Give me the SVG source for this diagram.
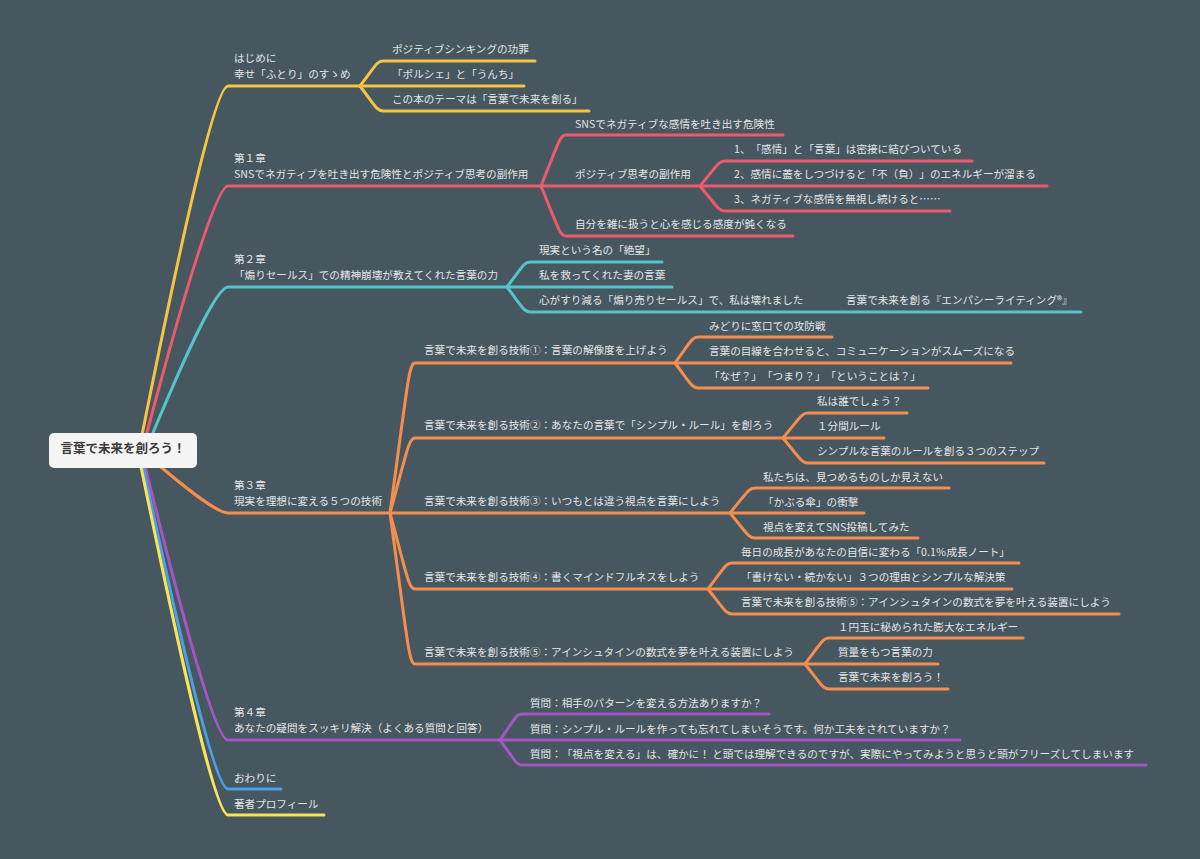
<svg xmlns="http://www.w3.org/2000/svg" width="1200" height="859" viewBox="0 0 1200 859">
<style>
.t{font-family:"Noto Sans CJK JP","Noto Sans",sans-serif;font-size:10.6px;fill:#e2e6e8;text-spacing-trim:space-all}
.root{font-family:"Noto Sans CJK JP","Noto Sans",sans-serif;font-size:12.5px;font-weight:bold;fill:#3a3a3a;text-spacing-trim:space-all}
.c{fill:none;stroke-width:3;stroke-linecap:round;stroke-linejoin:round}
.y{stroke:#f6c443}.r{stroke:#ec5a6b}.cy{stroke:#55c3cb}.o{stroke:#f58d4e}.p{stroke:#a456c4}.b{stroke:#4b9fe3}.y2{stroke:#f8e45c}
</style>
<rect width="1200" height="859" fill="#47575f"/>
<g id="connectors">
<path class="c y" d="M141,440 C180,245 215,86 228,86 L360,86"/>
<path class="c r" d="M145,440 C182,300 216,186 228,186 L541,186"/>
<path class="c cy" d="M150,440 C185,356 216,287 228,287 L507,287"/>
<path class="c o" d="M155,462 C188,490 217,513 228,513 L390,513"/>
<path class="c p" d="M144,462 C182,615 215,740 228,740 L500,740"/>
<path class="c b" d="M142,462 C181,642 215,789 228,789 L281,789"/>
<path class="c y2" d="M140,462 C180,656 215,815 228,815 L324,815"/>
<path class="c y" d="M360,86 C376.1,64.8 377.3,61 383,61 L535,61"/>
<path class="c y" d="M360,86 L524,86"/>
<path class="c y" d="M360,86 C376.1,107.3 377.3,111 383,111 L589,111"/>
<path class="c r" d="M541,186 C558.5,142.7 559.8,135 566,135 L783,135"/>
<path class="c r" d="M541,186 L700,186"/>
<path class="c r" d="M541,186 C558.5,228.5 559.8,236 566,236 L793,236"/>
<path class="c r" d="M700,186 C717.5,164.8 718.8,161 725,161 L972,161"/>
<path class="c r" d="M700,186 L1047,186"/>
<path class="c r" d="M700,186 C717.5,207.3 718.8,211 725,211 L950,211"/>
<path class="c cy" d="M507,287 C523.1,265.8 524.3,262 530,262 L662,262"/>
<path class="c cy" d="M507,287 L672,287"/>
<path class="c cy" d="M507,287 C523.1,308.3 524.3,312 530,312 L1081,312"/>
<path class="c o" d="M390,513 C407.5,385.5 408.8,363 415,363 L675,363"/>
<path class="c o" d="M390,513 C407.5,449.3 408.8,438 415,438 L783,438"/>
<path class="c o" d="M390,513 L730,513"/>
<path class="c o" d="M390,513 C407.5,577.6 408.8,589 415,589 L708,589"/>
<path class="c o" d="M390,513 C407.5,641.4 408.8,664 415,664 L805,664"/>
<path class="c o" d="M675,363 C691.1,340.9 692.3,337 698,337 L832,337"/>
<path class="c o" d="M675,363 L1011,363"/>
<path class="c o" d="M675,363 C691.1,384.3 692.3,388 698,388 L928,388"/>
<path class="c o" d="M783,438 C800.5,416.8 801.8,413 808,413 L907,413"/>
<path class="c o" d="M783,438 L884,438"/>
<path class="c o" d="M783,438 C800.5,459.3 801.8,463 808,463 L1044,463"/>
<path class="c o" d="M730,513 C747.5,491.8 748.8,488 755,488 L949,488"/>
<path class="c o" d="M730,513 L864,513"/>
<path class="c o" d="M730,513 C747.5,534.3 748.8,538 755,538 L918,538"/>
<path class="c o" d="M708,589 C724.8,566.9 726,563 732,563 L1019,563"/>
<path class="c o" d="M708,589 L1012,589"/>
<path class="c o" d="M708,589 C724.8,610.3 726,614 732,614 L1119,614"/>
<path class="c o" d="M805,664 C821.8,641.9 823,638 829,638 L1023,638"/>
<path class="c o" d="M805,664 L938,664"/>
<path class="c o" d="M805,664 C821.8,685.3 823,689 829,689 L948,689"/>
<path class="c p" d="M500,740 C515.4,717.9 516.5,714 522,714 L769,714"/>
<path class="c p" d="M500,740 L960,740"/>
<path class="c p" d="M500,740 C515.4,761.3 516.5,765 522,765 L1146,765"/>
</g>
<g id="root">
<rect x="49" y="433" width="148" height="35" rx="5" fill="#f4f4f4"/>
<text class="root" x="123" y="453" text-anchor="middle">言葉で未来を創ろう！</text>
</g>
<g id="n-hajimeni"><text class="t" x="234" y="62">はじめに</text><text class="t" x="234" y="78">幸せ「ふとり」のすゝめ</text></g>
<g id="n-h1"><text class="t" x="392" y="53">ポジティブシンキングの功罪</text></g>
<g id="n-h2"><text class="t" x="392" y="78">「ポルシェ」と「うんち」</text></g>
<g id="n-h3"><text class="t" x="392" y="103">この本のテーマは「言葉で未来を創る」</text></g>
<g id="n-ch1"><text class="t" x="234" y="162">第１章</text><text class="t" x="234" y="178">SNSでネガティブを吐き出す危険性とポジティブ思考の副作用</text></g>
<g id="n-ch1-1"><text class="t" x="575" y="128">SNSでネガティブな感情を吐き出す危険性</text></g>
<g id="n-ch1-2"><text class="t" x="575" y="178">ポジティブ思考の副作用</text></g>
<g id="n-ch1-3"><text class="t" x="575" y="228">自分を雑に扱うと心を感じる感度が鈍くなる</text></g>
<g id="n-ch1-2-1"><text class="t" x="734" y="153">1、「感情」と「言葉」は密接に結びついている</text></g>
<g id="n-ch1-2-2"><text class="t" x="734" y="178">2、感情に蓋をしつづけると「不（負）」のエネルギーが溜まる</text></g>
<g id="n-ch1-2-3"><text class="t" x="734" y="203">3、ネガティブな感情を無視し続けると……</text></g>
<g id="n-ch2"><text class="t" x="234" y="263">第２章</text><text class="t" x="234" y="279">「煽りセールス」での精神崩壊が教えてくれた言葉の力</text></g>
<g id="n-ch2-1"><text class="t" x="539" y="254">現実という名の「絶望」</text></g>
<g id="n-ch2-2"><text class="t" x="539" y="279">私を救ってくれた妻の言葉</text></g>
<g id="n-ch2-3"><text class="t" y="304"><tspan x="539">心がすり減る「煽り売りセールス」で、私は壊れました</tspan><tspan x="846">言葉で未来を創る『エンパシーライティング®』</tspan></text></g>
<g id="n-ch3"><text class="t" x="234" y="489">第３章</text><text class="t" x="234" y="505">現実を理想に変える５つの技術</text></g>
<g id="n-t1"><text class="t" x="424" y="354">言葉で未来を創る技術①：言葉の解像度を上げよう</text></g>
<g id="n-t2"><text class="t" x="424" y="429">言葉で未来を創る技術②：あなたの言葉で「シンプル・ルール」を創ろう</text></g>
<g id="n-t3"><text class="t" x="424" y="505">言葉で未来を創る技術③：いつもとは違う視点を言葉にしよう</text></g>
<g id="n-t4"><text class="t" x="424" y="581">言葉で未来を創る技術④：書くマインドフルネスをしよう</text></g>
<g id="n-t5"><text class="t" x="424" y="656">言葉で未来を創る技術⑤：アインシュタインの数式を夢を叶える装置にしよう</text></g>
<g id="n-t1-1"><text class="t" x="709" y="330">みどりに窓口での攻防戦</text></g>
<g id="n-t1-2"><text class="t" x="709" y="355">言葉の目線を合わせると、コミュニケーションがスムーズになる</text></g>
<g id="n-t1-3"><text class="t" x="709" y="380">「なぜ？」「つまり？」「ということは？」</text></g>
<g id="n-t2-1"><text class="t" x="817" y="405">私は誰でしょう？</text></g>
<g id="n-t2-2"><text class="t" x="817" y="430">１分間ルール</text></g>
<g id="n-t2-3"><text class="t" x="817" y="455">シンプルな言葉のルールを創る３つのステップ</text></g>
<g id="n-t3-1"><text class="t" x="763" y="481">私たちは、見つめるものしか見えない</text></g>
<g id="n-t3-2"><text class="t" x="763" y="506">「かぶる傘」の衝撃</text></g>
<g id="n-t3-3"><text class="t" x="763" y="531">視点を変えてSNS投稿してみた</text></g>
<g id="n-t4-1"><text class="t" x="741" y="556">毎日の成長があなたの自信に変わる「0.1％成長ノート」</text></g>
<g id="n-t4-2"><text class="t" x="741" y="581">「書けない・続かない」３つの理由とシンプルな解決策</text></g>
<g id="n-t4-3"><text class="t" x="741" y="606">言葉で未来を創る技術⑤：アインシュタインの数式を夢を叶える装置にしよう</text></g>
<g id="n-t5-1"><text class="t" x="838" y="631">１円玉に秘められた膨大なエネルギー</text></g>
<g id="n-t5-2"><text class="t" x="838" y="656">質量をもつ言葉の力</text></g>
<g id="n-t5-3"><text class="t" x="838" y="681">言葉で未来を創ろう！</text></g>
<g id="n-ch4"><text class="t" x="234" y="716">第４章</text><text class="t" x="234" y="732">あなたの疑問をスッキリ解決（よくある質問と回答）</text></g>
<g id="n-ch4-1"><text class="t" x="530" y="707">質問：相手のパターンを変える方法ありますか？</text></g>
<g id="n-ch4-2"><text class="t" x="530" y="733">質問：シンプル・ルールを作っても忘れてしまいそうです。何か工夫をされていますか？</text></g>
<g id="n-ch4-3"><text class="t" x="530" y="758">質問：「視点を変える」は、確かに！ と頭では理解できるのですが、実際にやってみようと思うと頭がフリーズしてしまいます</text></g>
<g id="n-owari"><text class="t" x="234" y="782">おわりに</text></g>
<g id="n-profile"><text class="t" x="234" y="808">著者プロフィール</text></g>
</svg>
